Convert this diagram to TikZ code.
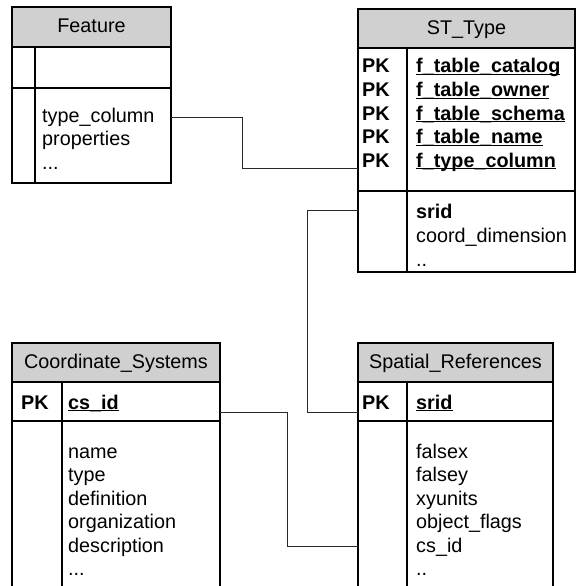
\documentclass[tikz,border=0pt]{standalone}
\usepackage{fontspec}
\setmainfont{Liberation Sans}
\definecolor{headgray}{RGB}{208,208,208}
\definecolor{conncol}{RGB}{40,40,40}
\newcommand\ulbf[1]{\setbox0\hbox{\bfseries #1}\rlap{\rule[-2.4pt]{\wd0}{1.3pt}}\box0}
\newcommand\threedots{...}
\newcommand\twodots{..}
\tikzset{
  frame/.style={draw=black, line width=1.3pt},
  headbox/.style={frame, fill=headgray},
  field/.style={anchor=base west, inner sep=0pt, font=\fontsize{19.8}{23.5}\selectfont},
  headtxt/.style={anchor=base, inner sep=0pt, font=\fontsize{19.8}{23.5}\selectfont},
  conn/.style={draw=conncol, line width=1pt},
}
\begin{document}
\begin{tikzpicture}[x=1pt,y=-1pt]
\useasboundingbox (0,0) rectangle (576,586);
\clip (0,0) rectangle (576,586);

% ---------- Feature ----------
\path[headbox] (12,7) rectangle (171,47);
\path[frame] (12,47) rectangle (171,88);
\path[frame] (12,88) rectangle (171,183);
\draw[frame] (35,47) -- (35,183);
\node[headtxt] (featT) at (91.5,33) {Feature};
\node[field] (fa) at (42,122) {type\_column};
\node[field] (fb) at (42,145.5) {properties};
\node[field] (fc) at (42,169) {\threedots};
\coordinate (featR) at (171,117);

% ---------- ST_Type ----------
\path[headbox] (358,9) rectangle (575,48);
\path[frame] (358,48) rectangle (575,191);
\path[frame] (358,191) rectangle (575,272);
\draw[frame] (407,48) -- (407,272);
\node[headtxt] (stT) at (466.5,35) {ST\_Type};
\foreach \t [count=\i] in {f\_table\_catalog,f\_table\_owner,f\_table\_schema,f\_table\_name,f\_type\_column}{
  \node[field] (stpk\i) at (362,{73+23.5*(\i-1)}) {\bfseries PK};
  \node[field] (stf\i) at (416,{73+23.5*(\i-1)}) {\ulbf{\t}};
}
\node[field] (sta) at (416,218.5) {\bfseries srid};
\node[field] (stb) at (416,242.5) {coord\_dimension};
\node[field] (stc) at (416,266) {\twodots};
\coordinate (stL1) at (358,168);
\coordinate (stL2) at (358,210);

% ---------- Coordinate_Systems ----------
\path[headbox] (12,343) rectangle (220,382);
\path[frame] (12,382) rectangle (220,421);
\path[frame] (12,421) rectangle (220,600);
\draw[frame] (62,382) -- (62,600);
\node[headtxt] (csT) at (116,368) {Coordinate\_Systems};
\node[field] (cspk) at (21,409) {\bfseries PK};
\node[field] (csid) at (68,409) {\ulbf{cs\_id}};
\foreach \t [count=\i] in {name,type,definition,organization,description,\threedots}{
  \node[field] (cs\i) at (68,{458+23.5*(\i-1)}) {\t};
}
\coordinate (csR) at (220,412);

% ---------- Spatial_References ----------
\path[headbox] (358,343) rectangle (553,382);
\path[frame] (358,382) rectangle (553,421);
\path[frame] (358,421) rectangle (553,600);
\draw[frame] (407,382) -- (407,600);
\node[headtxt] (srT) at (455.5,368) {Spatial\_References};
\node[field] (srpk) at (362,409) {\bfseries PK};
\node[field] (srid) at (416,409) {\ulbf{srid}};
\foreach \t [count=\i] in {falsex,falsey,xyunits,object\_flags,cs\_id,\twodots}{
  \node[field] (sr\i) at (416,{458+23.5*(\i-1)}) {\t};
}
\coordinate (srL1) at (358,412);
\coordinate (srL2) at (358,546);

% ---------- connectors ----------
\draw[conn] (featR) -| (242,168) -- (stL1);
\draw[conn] (stL2) -| (307,412) -- (srL1);
\draw[conn] (csR) -| (287,546) -- (srL2);
\end{tikzpicture}
\end{document}
